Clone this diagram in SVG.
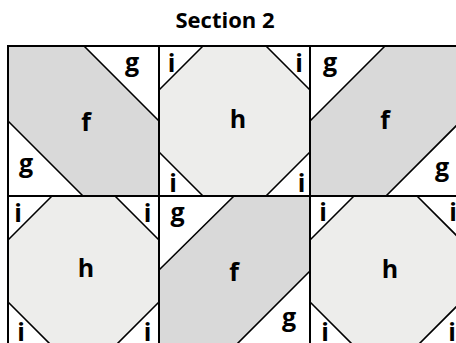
<svg xmlns="http://www.w3.org/2000/svg" width="456" height="343" viewBox="0 0 456 343">
<style>
.cell{fill:#ffffff;stroke:#000;stroke-width:2}
.f{fill:#d9d9d9;stroke:#000;stroke-width:1.6;stroke-linejoin:miter}
.h{fill:#ededeb;stroke:#000;stroke-width:1.6}
.grid{fill:none;stroke:#000;stroke-width:2}
text{font-family:"Open Sans","Liberation Sans",sans-serif;font-weight:bold;fill:#000;text-anchor:middle}
.lbl{font-size:25px}
.title{font-size:22px}
</style>
<rect width="456" height="343" fill="#ffffff"/>
<text class="title" x="225" y="28">Section 2</text>
<g id="cell1">
<rect class="cell" x="8" y="46" width="151" height="150"/>
<polygon class="f" points="8,46 84,46 159,121 159,196 83,196 8,121"/>
<text class="lbl" x="86" y="131">f</text>
<text class="lbl" x="132" y="71">g</text>
<text class="lbl" x="26" y="172">g</text>
</g>
<g id="cell2">
<rect class="cell" x="159" y="46" width="151" height="150"/>
<polygon class="h" points="203,46 266,46 310,90 310,152 266,196 203,196 159,152 159,90"/>
<text class="lbl" x="171.5" y="72">i</text>
<text class="lbl" x="299" y="72">i</text>
<text class="lbl" x="238" y="128">h</text>
<text class="lbl" x="173" y="192">i</text>
<text class="lbl" x="301.5" y="192">i</text>
</g>
<g id="cell3">
<rect class="cell" x="310" y="46" width="151" height="150"/>
<polygon class="f" points="385,46 461,46 461,121 386,196 310,196 310,121"/>
<text class="lbl" x="330" y="71">g</text>
<text class="lbl" x="385" y="129">f</text>
<text class="lbl" x="442" y="176">g</text>
</g>
<g id="cell4">
<rect class="cell" x="8" y="196" width="151" height="150"/>
<polygon class="h" points="52,196 115,196 159,240 159,302 115,346 52,346 8,302 8,240"/>
<text class="lbl" x="18" y="222">i</text>
<text class="lbl" x="147.5" y="222">i</text>
<text class="lbl" x="86" y="277">h</text>
<text class="lbl" x="21" y="341">i</text>
<text class="lbl" x="147.5" y="341">i</text>
</g>
<g id="cell5">
<rect class="cell" x="159" y="196" width="151" height="150"/>
<polygon class="f" points="234,196 310,196 310,271 235,346 159,346 159,270"/>
<text class="lbl" x="177.5" y="221">g</text>
<text class="lbl" x="234" y="281">f</text>
<text class="lbl" x="289" y="326">g</text>
</g>
<g id="cell6">
<rect class="cell" x="310" y="196" width="151" height="150"/>
<polygon class="h" points="354,196 417,196 461,240 461,302 417,346 354,346 310,302 310,240"/>
<text class="lbl" x="323" y="221">i</text>
<text class="lbl" x="453" y="221">i</text>
<text class="lbl" x="390" y="278">h</text>
<text class="lbl" x="325" y="341">i</text>
<text class="lbl" x="452" y="341">i</text>
</g>
<g id="connectors">
<path class="grid" d="M8,46H461M8,196H461M8,346H461M8,46V346M159,46V346M310,46V346M461,46V346"/>
</g>
</svg>
